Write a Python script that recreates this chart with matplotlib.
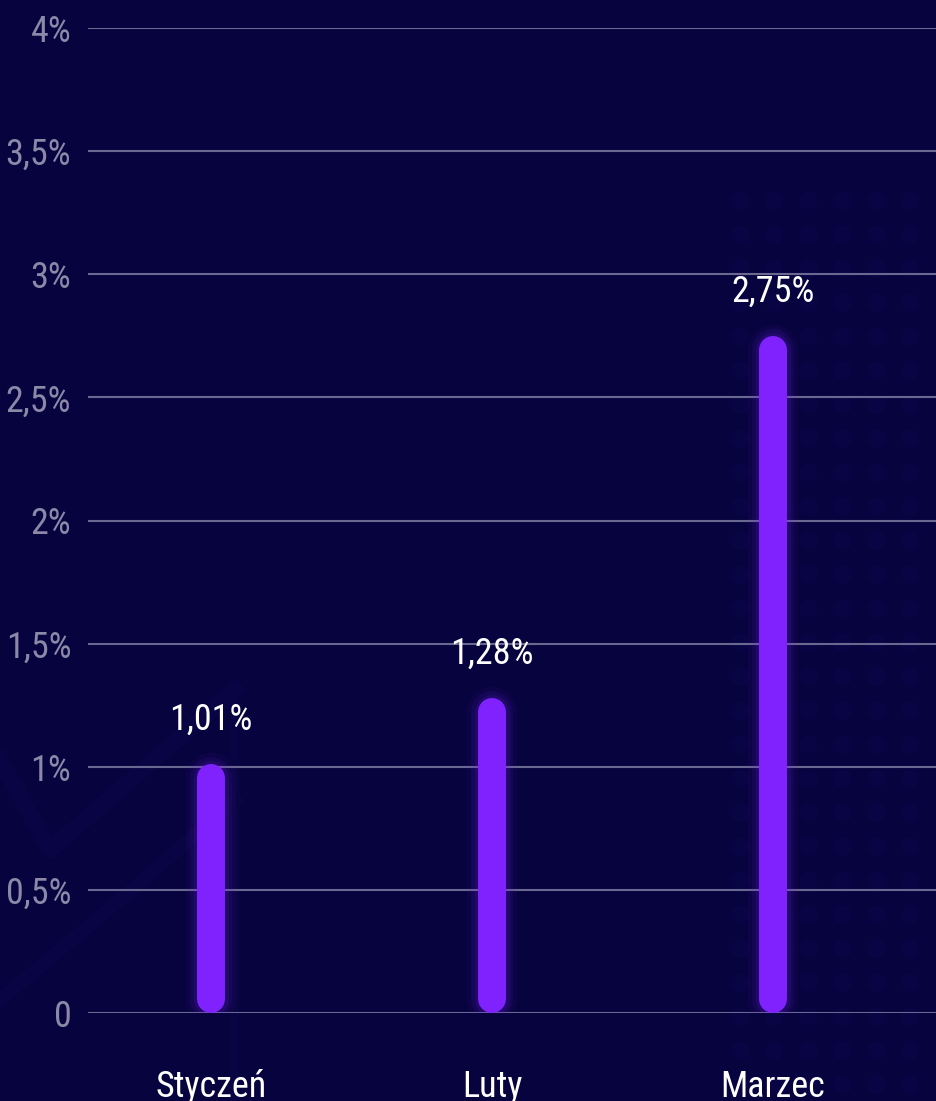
import numpy as np
import matplotlib
matplotlib.use('Agg')
import matplotlib.pyplot as plt
from matplotlib import font_manager

months = ['Styczeń', 'Luty', 'Marzec']
values = [1.01, 1.28, 2.75]
value_labels = ['1,01%', '1,28%', '2,75%']
yticks = [0, 0.5, 1, 1.5, 2, 2.5, 3, 3.5, 4]
ytick_labels = ['0', '0,5%', '1%', '1,5%', '2%', '2,5%', '3%', '3,5%', '4%']

names = {f.name for f in font_manager.fontManager.ttflist}
font = 'DejaVu Sans'
for cand in ['Ubuntu Condensed', 'Roboto Condensed', 'Liberation Sans Narrow', 'Open Sans Condensed', 'Roboto']:
    if cand in names:
        font = cand
        break
plt.rcParams['font.family'] = [font, 'DejaVu Sans']

bg = '#07033f'
bar_color = '#7f22fe'
grid_color = '#6a6790'
tick_color = '#8b88a8'

fig = plt.figure(figsize=(9.36, 11.01), dpi=100, facecolor=bg)

# faint background decoration
deco = fig.add_axes([0, 0, 1, 1], zorder=0)
deco.set_xlim(0, 936)
deco.set_ylim(1101, 0)
deco.axis('off')
dx = np.arange(740, 936, 34)
dy = np.arange(200, 1101, 34)
gx, gy = np.meshgrid(dx, dy)
deco.scatter(gx.ravel(), gy.ravel(), s=180, color='#090545', linewidths=0)
deco.plot([0, 50, 235], [760, 850, 690], color='#090544', lw=12)
deco.plot([0, 120, 235], [1000, 900, 800], color='#090544', lw=10)
deco.plot([235, 235], [690, 1101], color='#090544', lw=6)

ax = fig.add_axes([88 / 936, 1 - 1013 / 1101, 1 - 88 / 936, (1013 - 28) / 1101], zorder=1)
ax.set_facecolor('none')
ax.set_xlim(-0.438, 2.58)
ax.set_ylim(0, 4)
for s in ax.spines.values():
    s.set_visible(False)
ax.set_yticks(yticks)
ax.set_yticklabels(ytick_labels)
ax.grid(axis='y', color=grid_color, lw=1.5)
ax.set_axisbelow(True)
ax.tick_params(axis='y', length=0, pad=12, labelsize=26, labelcolor=tick_color)
ax.set_xticks(range(len(months)))
ax.set_xticklabels(months)
ax.tick_params(axis='x', length=0, pad=40, labelsize=26, labelcolor='white')

# rounded bars: shrink ends by half the line width in data units
lw_px = 28
ax_h_px = ax.get_position().height * fig.get_figheight() * fig.dpi
half = (lw_px / 2) / ax_h_px * 4
lw_pt = lw_px * 72 / fig.dpi
for i, v in enumerate(values):
    for extra, a in [(16, 0.05), (10, 0.08), (5, 0.12)]:
        ax.plot([i, i], [half, v - half], color=bar_color, lw=lw_pt + extra,
                alpha=a, solid_capstyle='round', zorder=2)
    ax.plot([i, i], [half, v - half], color=bar_color, lw=lw_pt,
            solid_capstyle='round', zorder=3)
    ax.text(i, v + 0.18, value_labels[i], ha='center', va='center',
            color='white', fontsize=26)

fig.savefig('out.png', dpi=100, facecolor=bg)
